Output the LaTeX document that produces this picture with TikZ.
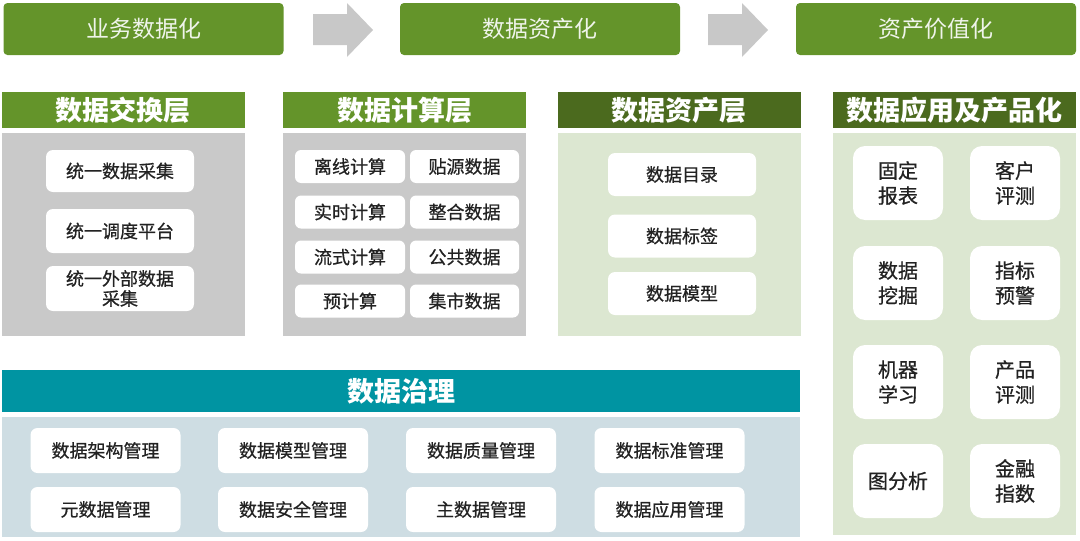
\documentclass[tikz,border=0pt]{standalone}
\usepackage{fontspec}
\setmainfont{Noto Sans CJK SC}
\newfontfamily\itemfont[FakeBold=0.7]{Noto Sans CJK SC}
\definecolor{topgreen}{HTML}{64942A}
\definecolor{darkgreen}{HTML}{4B6A1E}
\definecolor{panelgray}{HTML}{C9C9C9}
\definecolor{panelgreen}{HTML}{DCE7D1}
\definecolor{teal}{HTML}{0094A2}
\definecolor{panelblue}{HTML}{CEDDE3}
\definecolor{arrowgray}{HTML}{C8C8C8}
\definecolor{itemtext}{HTML}{222222}
\tikzset{
  banner/.style={fill=topgreen, rounded corners=4pt, minimum width=280pt, minimum height=52pt, text=white!90!topgreen, font=\fontsize{23}{25}\selectfont, inner sep=0pt},
  layerhead/.style={minimum width=243pt, minimum height=36pt, text=white, font=\fontsize{27}{29}\selectfont\bfseries, inner sep=0pt},
  panel/.style={minimum width=243pt, inner sep=0pt},
  item/.style={fill=white, rounded corners=7pt, text=itemtext, inner sep=0pt, align=center, font=\itemfont\fontsize{18}{21}\selectfont},
  appitem/.style={fill=white, rounded corners=12pt, text=itemtext, inner sep=0pt, align=center, minimum width=90pt, minimum height=74pt, font=\itemfont\fontsize{20}{25}\selectfont},
  bigarrow/.style={fill=arrowgray}
}
\begin{document}
\begin{tikzpicture}[x=1pt,y=-1pt]
\useasboundingbox (0,0) rectangle (1080,541);
% top banners
\node[banner] (b1) at (143.5,29) {业务数据化};
\node[banner] (b2) at (540,29) {数据资产化};
\node[banner] (b3) at (936,29) {资产价值化};
\fill[bigarrow] (313,14)--(347,14)--(347,3)--(373,30)--(347,57)--(347,45)--(313,45)--cycle;
\fill[bigarrow] (708,14)--(742,14)--(742,3)--(768,30)--(742,57)--(742,45)--(708,45)--cycle;
% layer headers
\node[layerhead, fill=topgreen] (h1) at (123.5,110) {数据交换层};
\node[layerhead, fill=topgreen] (h2) at (404.5,110) {数据计算层};
\node[layerhead, fill=darkgreen] (h3) at (679,110) {数据资产层};
\node[layerhead, fill=darkgreen] (h4) at (954.5,110) {数据应用及产品化};
% panels
\node[panel, fill=panelgray, minimum height=203pt] (p1) at (123.5,234.5) {};
\node[panel, fill=panelgray, minimum height=203pt] (p2) at (404.5,234.5) {};
\node[panel, fill=panelgreen, minimum height=203pt] (p3) at (679,234.5) {};
\node[panel, fill=panelgreen, minimum height=402pt] (p4) at (954.5,334) {};
% exchange items
\node[item, minimum width=148pt, minimum height=42pt] (e1) at (120,171) {统一数据采集};
\node[item, minimum width=148pt, minimum height=44pt] (e2) at (120,231) {统一调度平台};
\node[item, minimum width=148pt, minimum height=45pt, font=\itemfont\fontsize{18}{20}\selectfont] (e3) at (120,288.5) {统一外部数据\\采集};
% compute items
\foreach \n/\t/\y in {c1/离线计算/166.5, c2/实时计算/212, c3/流式计算/257, c4/预计算/301}
  \node[item, minimum width=110pt, minimum height=33pt, rounded corners=6pt] (\n) at (350,\y) {\t};
\foreach \n/\t/\y in {d1/贴源数据/166.5, d2/整合数据/212, d3/公共数据/257, d4/集市数据/301}
  \node[item, minimum width=109pt, minimum height=33pt, rounded corners=6pt] (\n) at (464.5,\y) {\t};
% asset items
\foreach \n/\t/\y in {a1/数据目录/174.5, a2/数据标签/236, a3/数据模型/293.5}
  \node[item, minimum width=148pt, minimum height=43pt] (\n) at (682,\y) {\t};
% application items
\node[appitem] (q1) at (898,183) {固定\\报表};
\node[appitem] (q2) at (1015,183) {客户\\评测};
\node[appitem] (q3) at (898,283) {数据\\挖掘};
\node[appitem] (q4) at (1015,283) {指标\\预警};
\node[appitem] (q5) at (898,382) {机器\\学习};
\node[appitem] (q6) at (1015,382) {产品\\评测};
\node[appitem] (q7) at (898,481) {图分析};
\node[appitem] (q8) at (1015,481) {金融\\指数};
% governance
\node[fill=teal, minimum width=798pt, minimum height=42pt, inner sep=0pt, text=white, font=\fontsize{27}{29}\selectfont\bfseries] (g) at (401,391) {数据治理};
\node[fill=panelblue, minimum width=798pt, minimum height=120pt, inner sep=0pt] (gp) at (401,477) {};
\foreach \n/\t/\x in {g1/数据架构管理/105.5, g2/数据模型管理/293, g3/数据质量管理/481, g4/数据标准管理/669.5}
  \node[item, minimum width=150pt, minimum height=45pt] (\n) at (\x,450.5) {\t};
\foreach \n/\t/\x in {g5/元数据管理/105.5, g6/数据安全管理/293, g7/主数据管理/481, g8/数据应用管理/669.5}
  \node[item, minimum width=150pt, minimum height=45pt] (\n) at (\x,509.5) {\t};
\end{tikzpicture}
\end{document}
